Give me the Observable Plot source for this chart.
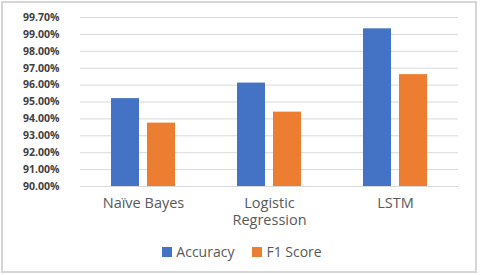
<!DOCTYPE html>
<html>
<head>
<meta charset="utf-8">
<script src="https://cdn.jsdelivr.net/npm/d3@7"></script>
<script src="https://cdn.jsdelivr.net/npm/@observablehq/plot@0.6"></script>
<style>
  html, body { margin: 0; padding: 0; background: #fff; }
  #wrap { position: relative; width: 480px; height: 275px; overflow: hidden; font-family: "Open Sans", sans-serif; }
  #frame { position: absolute; left: 1px; top: 1px; width: 476px; height: 272px; border: 2px solid #d6d6d6; box-sizing: border-box; pointer-events: none; }
  #chart { position: absolute; left: 0; top: 0; }
  #legend { position: absolute; left: 0; top: 242px; width: 480px; display: flex; justify-content: center; gap: 18px; font-size: 14px; color: #595959; padding-left: 4px; box-sizing: border-box; }
  #legend span.item { display: flex; align-items: center; }
  #legend span.sw { display: inline-block; width: 10px; height: 10px; margin-right: 4px; }
</style>
</head>
<body>
<div id="wrap">
  <div id="chart"></div>
  <div id="legend"></div>
  <div id="frame"></div>
</div>
<script>
const models = ["Naïve Bayes", "Logistic Regression", "LSTM"];
const metrics = ["Accuracy", "F1 Score"];
const accuracy = [95.2, 96.12, 99.33];
const f1Score = [93.75, 94.4, 96.62];
const tickValues = [90, 91, 92, 93, 94, 95, 96, 97, 98, 99, 100];
const tickLabels = ["90.00%", "91.00%", "92.00%", "93.00%", "94.00%", "95.00%", "96.00%", "97.00%", "98.00%", "99.00%", "99.70%"];
const colors = ["#4472C4", "#ED7D31"];

const data = [];
models.forEach((m, i) => {
  data.push({model: m, metric: metrics[0], value: accuracy[i]});
  data.push({model: m, metric: metrics[1], value: f1Score[i]});
});

const labelMap = new Map(tickValues.map((v, i) => [v, tickLabels[i]]));

const plot = Plot.plot({
  width: 480,
  height: 240,
  marginTop: 17,
  marginBottom: 54,
  marginLeft: 80,
  marginRight: 22,
  style: {fontFamily: "Open Sans, sans-serif", background: "transparent"},
  fx: {domain: models, padding: 0, label: null, axis: null},
  x: {domain: metrics, paddingInner: 0.22, paddingOuter: 0.86, axis: null},
  y: {domain: [90, 100], label: null},
  color: {domain: metrics, range: colors},
  marks: [
    Plot.ruleY(tickValues, {stroke: "#d9d9d9", strokeWidth: 1}),
    Plot.barY(data, {fx: "model", x: "metric", y1: 90, y2: "value", fill: "metric"}),
    Plot.axisY({
      ticks: tickValues,
      tickFormat: d => labelMap.get(d),
      tickSize: 0,
      tickPadding: 21,
      fontSize: 10.5,
      fontWeight: "bold",
      fill: "#404040",
      label: null
    }),
    Plot.axisFx({
      anchor: "bottom",
      tickSize: 0,
      tickPadding: 9,
      fontSize: 14.5,
      lineHeight: 1.18,
      fill: "#595959",
      lineWidth: 7,
      label: null
    })
  ]
});
document.getElementById("chart").appendChild(plot);

const legend = document.getElementById("legend");
metrics.forEach((m, i) => {
  const item = document.createElement("span");
  item.className = "item";
  const sw = document.createElement("span");
  sw.className = "sw";
  sw.style.background = colors[i];
  item.appendChild(sw);
  item.appendChild(document.createTextNode(m));
  legend.appendChild(item);
});
</script>
</body>
</html>
